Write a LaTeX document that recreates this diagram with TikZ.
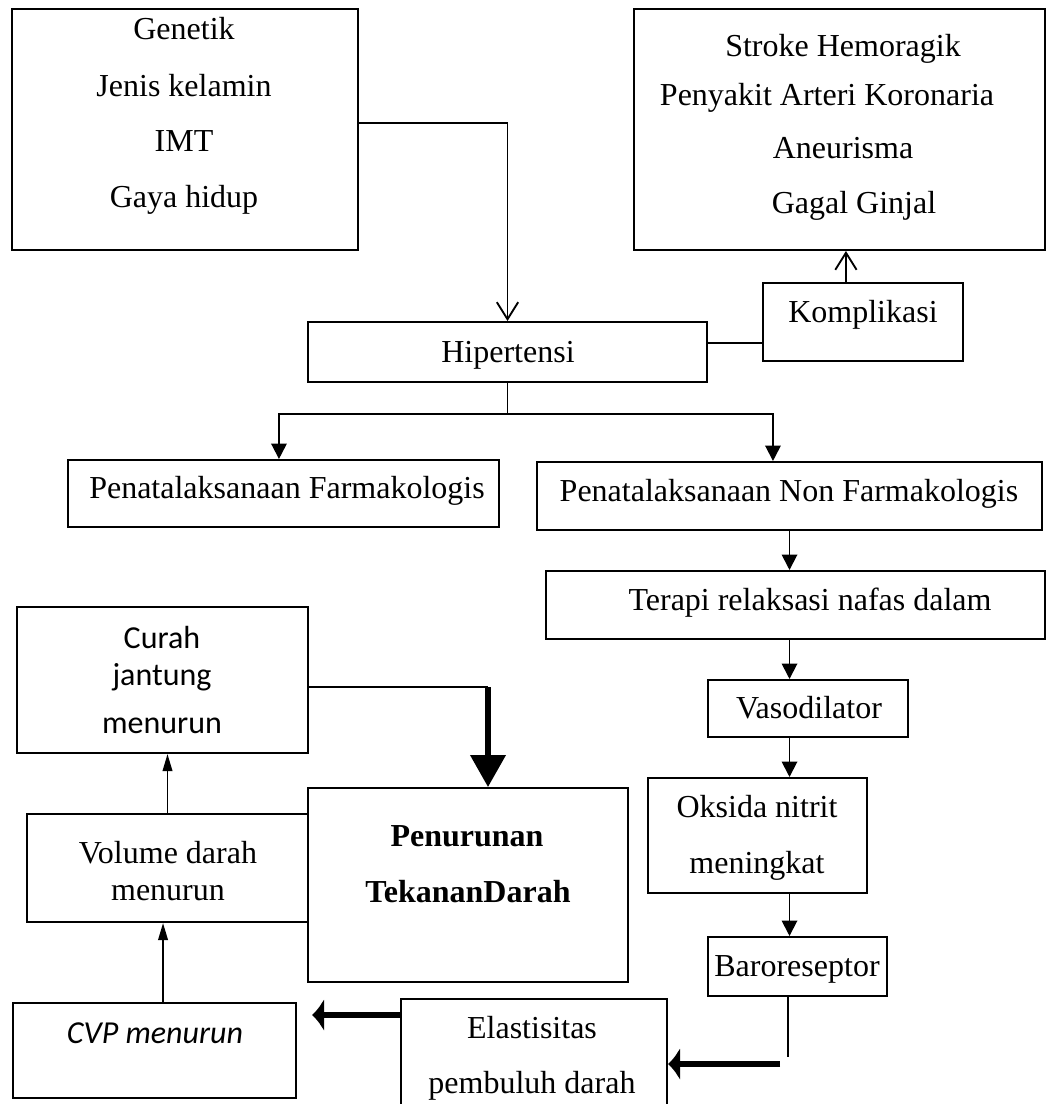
\documentclass[tikz,border=0pt]{standalone}
\usepackage{fontspec}
\setmainfont{Liberation Serif}
\newfontfamily\calibri{Carlito}
\usetikzlibrary{positioning,fit,arrows.meta}

\tikzset{
    box/.style={draw, line width=0.75pt, inner sep=0pt},
    txt/.style={inner sep=0pt, anchor=base, font=\fontsize{12pt}{14pt}\selectfont},
    link/.style={line width=0.7pt},
    openarr/.style={link, -{Straight Barb[length=6.4pt, width=8pt]}},
    triarr/.style={link, -{Triangle[length=5.8pt, width=5.8pt]}},
    slimarr/.style={link, -{Triangle[length=6.4pt, width=3.6pt]}},
    bigarr/.style={line width=1.9pt, -{Triangle[length=12pt, width=13pt]}},
    fatarr/.style={line width=1.9pt, -{Latex[length=4.5pt, width=12.5pt]}}
}

\begin{document}
\begin{tikzpicture}[x=0.375pt, y=-0.375pt]
    \useasboundingbox (0,0) rectangle (1047,1104);
    \clip (0,0) rectangle (1047,1104);

    % boxes
    \node[box, fit={(12,9) (358,250)}] (risk) {};
    \node[box, fit={(634,9) (1045,250)}] (comp) {};
    \node[box, fit={(763,283) (963,361)}] (kompl) {};
    \node[box, fit={(308,322) (707,382)}] (hip) {};
    \node[box, fit={(68,460) (499,527)}] (farm) {};
    \node[box, fit={(537,462) (1042,530)}] (non) {};
    \node[box, fit={(546,571) (1045,639)}] (ter) {};
    \node[box, fit={(708,680) (908,737)}] (vaso) {};
    \node[box, fit={(648,778) (867,893)}] (oks) {};
    \node[box, fit={(708,937) (887,996)}] (baro) {};
    \node[box, fit={(401,999) (667,1120)}] (ela) {};
    \node[box, fit={(17,607) (308,753)}] (cur) {};
    \node[box, fit={(308,788) (628,982)}] (pen) {};
    \node[box, fit={(27,814) (308,922)}] (vol) {};
    \node[box, fit={(13,1003) (296,1098)}] (cvp) {};

    % texts
    \foreach \t/\y [count=\i] in {Genetik/40, Jenis kelamin/97, IMT/152, Gaya hidup/208}
        \node[txt] (risk-\i) at (184,\y) {\t};
    \foreach \t/\x/\y [count=\i] in {Stroke Hemoragik/843/57, Penyakit Arteri Koronaria/827/106,
        Aneurisma/843/159, Gagal Ginjal/854/214}
        \node[txt] (comp-\i) at (\x,\y) {\t};
    \node[txt] (kompl-t) at (863,323) {Komplikasi};
    \node[txt] (hip-t) at (508,363) {Hipertensi};
    \node[txt] (farm-t) at (287,498) {Penatalaksanaan Farmakologis};
    \node[txt] (non-t) at (789,501) {Penatalaksanaan Non Farmakologis};
    \node[txt] (ter-t) at (810,610) {Terapi relaksasi nafas dalam};
    \node[txt] (vaso-t) at (809,718) {Vasodilator};
    \node[txt] (oks-1) at (757,817) {Oksida nitrit};
    \node[txt] (oks-2) at (757,873) {meningkat};
    \node[txt] (baro-t) at (797,976) {Baroreseptor};
    \node[txt] (ela-1) at (532,1038) {Elastisitas};
    \node[txt] (ela-2) at (532,1093) {pembuluh darah};
    \node[txt] (pen-1) at (467,846) {\bfseries Penurunan};
    \node[txt] (pen-2) at (468,902) {\bfseries TekananDarah};
    \node[txt] (vol-1) at (168,863) {Volume darah};
    \node[txt] (vol-2) at (168,900) {menurun};
    \node[txt] (cvp-t) at (155,1043) {\calibri\itshape CVP menurun};
    \foreach \t/\y [count=\i] in {Curah/648, jantung/685, menurun/733}
        \node[txt] (cur-\i) at (162,\y) {\calibri \t};

    % connectors
    \draw[openarr] ([yshift=2.4pt]risk.east) -| (hip.north);
    \draw[link] ([yshift=3.4pt]hip.east) -- ([yshift=-7.9pt]kompl.west);
    \draw[openarr] ([xshift=-6.4pt]kompl.north) -- ([xshift=-6.4pt]kompl.north |- comp.south);
    \coordinate[below=11.6pt of hip.south] (split);
    \draw[link] (hip.south) -- (split);
    \draw[triarr] (split) -| ([xshift=-1.7pt]farm.north);
    \draw[triarr] (split) -| ([xshift=-6.2pt]non.north);
    \draw[triarr] (non.south) -- (non.south |- ter.north);
    \draw[triarr] (non.south |- ter.south) -- (non.south |- vaso.north);
    \draw[triarr] (non.south |- vaso.south) -- (non.south |- oks.north);
    \draw[triarr] (non.south |- oks.south) -- (non.south |- baro.north);
    \coordinate (bend) at (788,1057);
    \draw[link] (bend |- baro.south) -- (bend);
    \coordinate (fatstart) at (780,1064);
    \draw[fatarr] (fatstart) -- (fatstart -| ela.east);
    \coordinate (cvptip) at (312,1015);
    \draw[fatarr] (cvptip -| ela.west) -- (cvptip);
    \draw[slimarr] ([xshift=3.2pt]cvp.north) -- ([xshift=3.2pt]cvp.north |- vol.south);
    \draw[slimarr] (vol.north) -- (vol.north |- cur.south);
    \coordinate (turn) at (488,687);
    \draw[link] (turn -| cur.east) -- (turn);
    \draw[bigarr] (turn) -- (turn |- pen.north);
\end{tikzpicture}
\end{document}
